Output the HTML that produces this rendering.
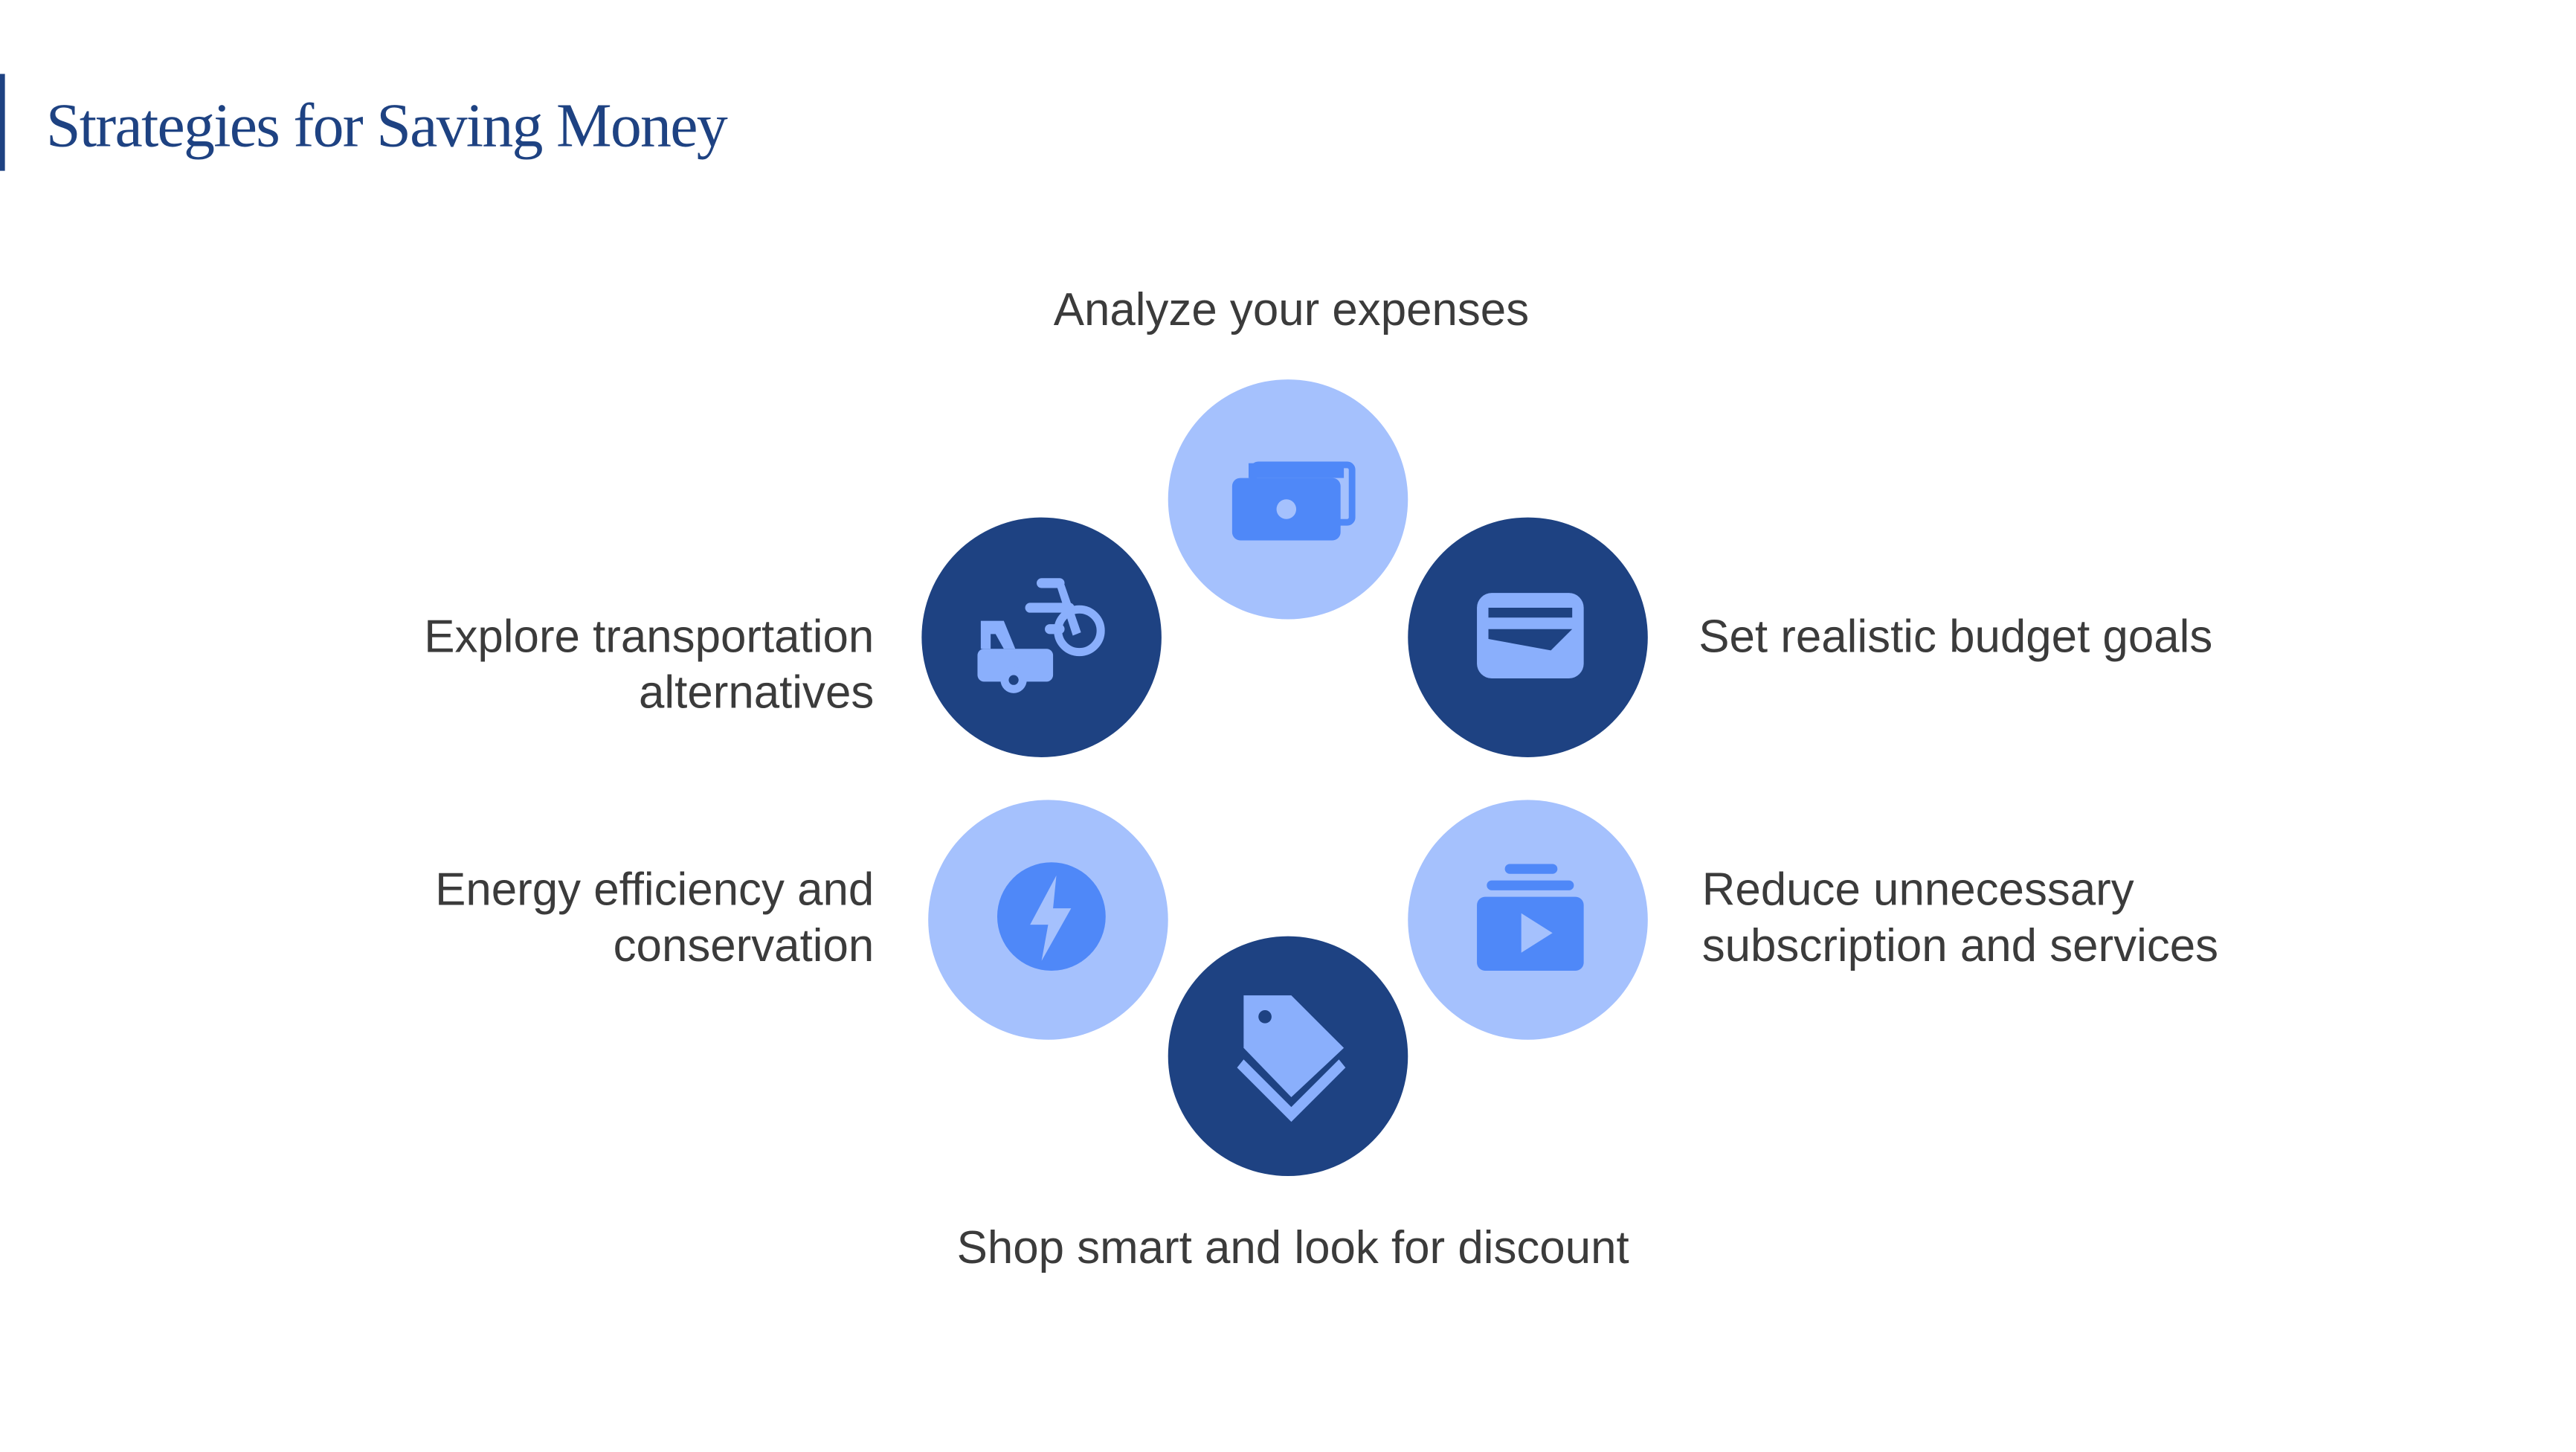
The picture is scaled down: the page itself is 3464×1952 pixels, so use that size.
<!DOCTYPE html>
<html><head><meta charset="utf-8"><style>
html,body{margin:0;padding:0;background:#fff;width:3464px;height:1952px;overflow:hidden}
svg{display:block}
text{font-family:"Liberation Sans",sans-serif;fill:#3b3b3b}
</style></head><body>
<svg width="3464" height="1952" viewBox="0 0 1568 884" preserveAspectRatio="none">
<rect x="0" y="45" width="3" height="59" fill="#1e4282"/>
<text x="28" y="89" textLength="415" style="font-family:'Liberation Serif',serif;fill:#1e4282;font-size:38px;">Strategies for Saving Money</text>

<circle cx="784" cy="304" r="73" fill="#a5c1fd"/>
<circle cx="930" cy="388" r="73" fill="#1e4282"/>
<circle cx="634" cy="388" r="73" fill="#1e4282"/>
<circle cx="638" cy="560" r="73" fill="#a5c1fd"/>
<circle cx="930" cy="560" r="73" fill="#a5c1fd"/>
<circle cx="784" cy="643" r="73" fill="#1e4282"/>

<rect x="763" y="283" width="60" height="35" rx="3" fill="none" stroke="#4f88f8" stroke-width="4"/>
<rect x="750" y="291" width="66" height="38" rx="5" fill="#4f88f8"/>
<rect x="760" y="282" width="58" height="9" fill="#4f88f8"/>
<circle cx="783" cy="310" r="6" fill="#a5c1fd"/>

<rect x="899" y="361" width="65" height="52" rx="9" fill="#8aaffc"/>
<path d="M906 370 H957 V376 H906 Z" fill="#1e4282"/>
<path d="M906 383 H957 L944 396 L906 389 Z" fill="#1e4282"/>

<g fill="#8aaffc">
<rect x="595" y="395" width="46" height="20" rx="4"/>
<path d="M597 378 H611 L618 395 H611 L606 386 H603 V395 H597 Z"/>
<circle cx="617" cy="414" r="8"/>
<circle cx="657" cy="384" r="13" fill="none" stroke="#8aaffc" stroke-width="5"/>
<rect x="631" y="352" width="17" height="6" rx="3"/>
<rect x="624" y="367" width="30" height="6" rx="3"/>
<rect x="636" y="380" width="12" height="6" rx="3"/>
<path d="M643 356 L648 356 L658 385 L653 387 Z"/>
</g>
<circle cx="617" cy="414" r="3" fill="#1e4282"/>

<circle cx="640" cy="558" r="33" fill="#4f88f8"/>
<path d="M643 533 L627 563 H638 L634 585 L652 553 H641 Z" fill="#a5c1fd"/>

<g fill="#4f88f8">
<rect x="916" y="526" width="32" height="6" rx="3"/>
<rect x="905" y="536" width="53" height="6" rx="3"/>
<rect x="899" y="546" width="65" height="45" rx="5"/>
</g>
<path d="M926 556 L945 568 L926 580 Z" fill="#a5c1fd"/>

<g fill="#8aaffc">
<path d="M757 606 H786 L818 638 L786 668 L757 638 Z"/>
<path d="M757 645 L786 674 L815 645 L819 650 L786 683 L753 650 Z"/>
</g>
<circle cx="770" cy="619" r="4" fill="#1e4282"/>

<g style="font-size:28px">
<text x="786" y="198" text-anchor="middle">Analyze your expenses</text>
<text x="1034" y="397">Set realistic budget goals</text>
<text x="532" y="397" text-anchor="end">Explore transportation</text>
<text x="532" y="431" text-anchor="end">alternatives</text>
<text x="532" y="551" text-anchor="end">Energy efficiency and</text>
<text x="532" y="585" text-anchor="end">conservation</text>
<text x="1036" y="551">Reduce unnecessary</text>
<text x="1036" y="585">subscription and services</text>
<text x="787" y="769" text-anchor="middle">Shop smart and look for discount</text>
</g>
</svg>
</body></html>
